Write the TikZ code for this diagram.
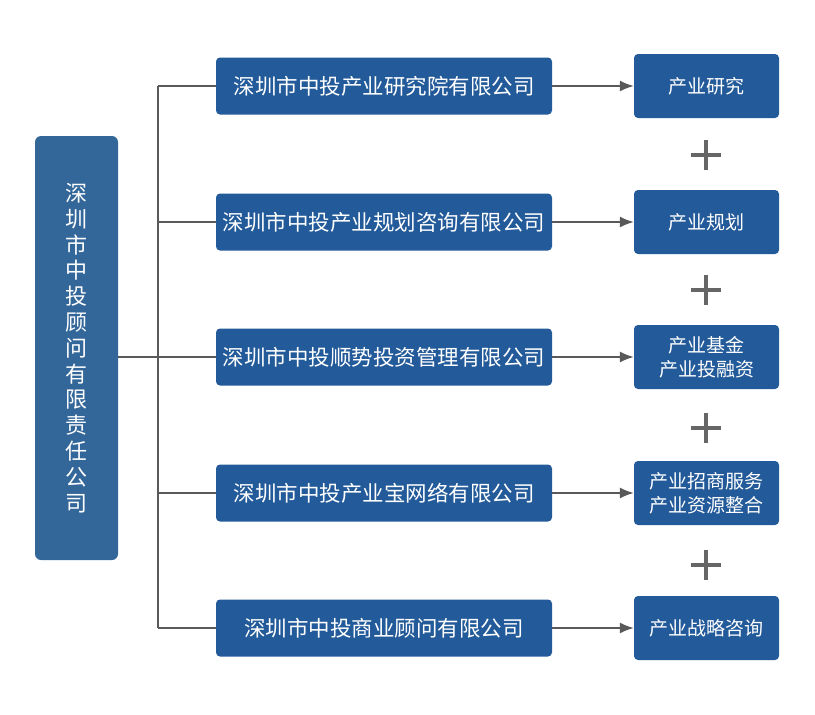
\documentclass[tikz,border=0pt]{standalone}
\usepackage{fontspec}
\setmainfont{Noto Sans CJK SC}
\usetikzlibrary{arrows.meta}
\definecolor{boxblue}{HTML}{235A99}
\definecolor{leftblue}{HTML}{336699}
\definecolor{linegray}{HTML}{595959}
\definecolor{plusgray}{HTML}{666666}
\tikzset{
  firm/.style={fill=boxblue,rounded corners=4pt,text=white,
    minimum width=336pt,minimum height=57pt,font=\fontsize{21.5}{26}\selectfont},
  biz/.style={fill=boxblue,rounded corners=4pt,text=white,align=center,
    minimum width=145pt,minimum height=64pt,font=\fontsize{19}{24}\selectfont},
  link/.style={draw=linegray,line width=1.5pt},
  plus/.style={draw=plusgray,line width=4pt}
}
\begin{document}
\begin{tikzpicture}[x=1pt,y=-1pt]
\useasboundingbox (0,0) rectangle (815,715);

% Groupe
\node[fill=leftblue,rounded corners=6pt,text=white,
minimum width=83pt,
minimum height=424pt,
align=center,
font=\fontsize{22}{25.8}\selectfont]
(G)
at (76.5,348)
{深\\圳\\市\\中\\投\\顾\\问\\有\\限\\责\\任\\公\\司};

% Filiales
\foreach \i/\y/\t in {
1/86/深圳市中投产业研究院有限公司,
2/222/深圳市中投产业规划咨询有限公司,
3/357/深圳市中投顺势投资管理有限公司,
4/493/深圳市中投产业宝网络有限公司,
5/628/深圳市中投商业顾问有限公司}
{
\node[firm] (s\i) at (384,\y) {\t};
\coordinate (t\i) at (158,\y);
}

% Métiers
\foreach \i/\y/\t in {
1/86/产业研究,
2/222/产业规划,
3/357/产业基金\\产业投融资,
4/493/产业招商服务\\产业资源整合,
5/628/产业战略咨询}
{
\node[biz] (r\i) at (706.5,\y) {\t};
}

% Liaisons
\draw[link] (G.east |- t3) -- (t3);
\draw[link] (t1) -- (t5);
\foreach \i in {1,...,5}
{
\draw[link] (t\i) -- (s\i.west);
\draw[link,-{Latex[length=14pt,width=11pt]}] (s\i.east) -- (r\i.west);
}

% Plus
\foreach \y in {155,290,428,565}
{
\draw[plus] (691,\y) -- (721,\y);
\draw[plus] (706,\y-15) -- (706,\y+15);
}

\end{tikzpicture}
\end{document}
